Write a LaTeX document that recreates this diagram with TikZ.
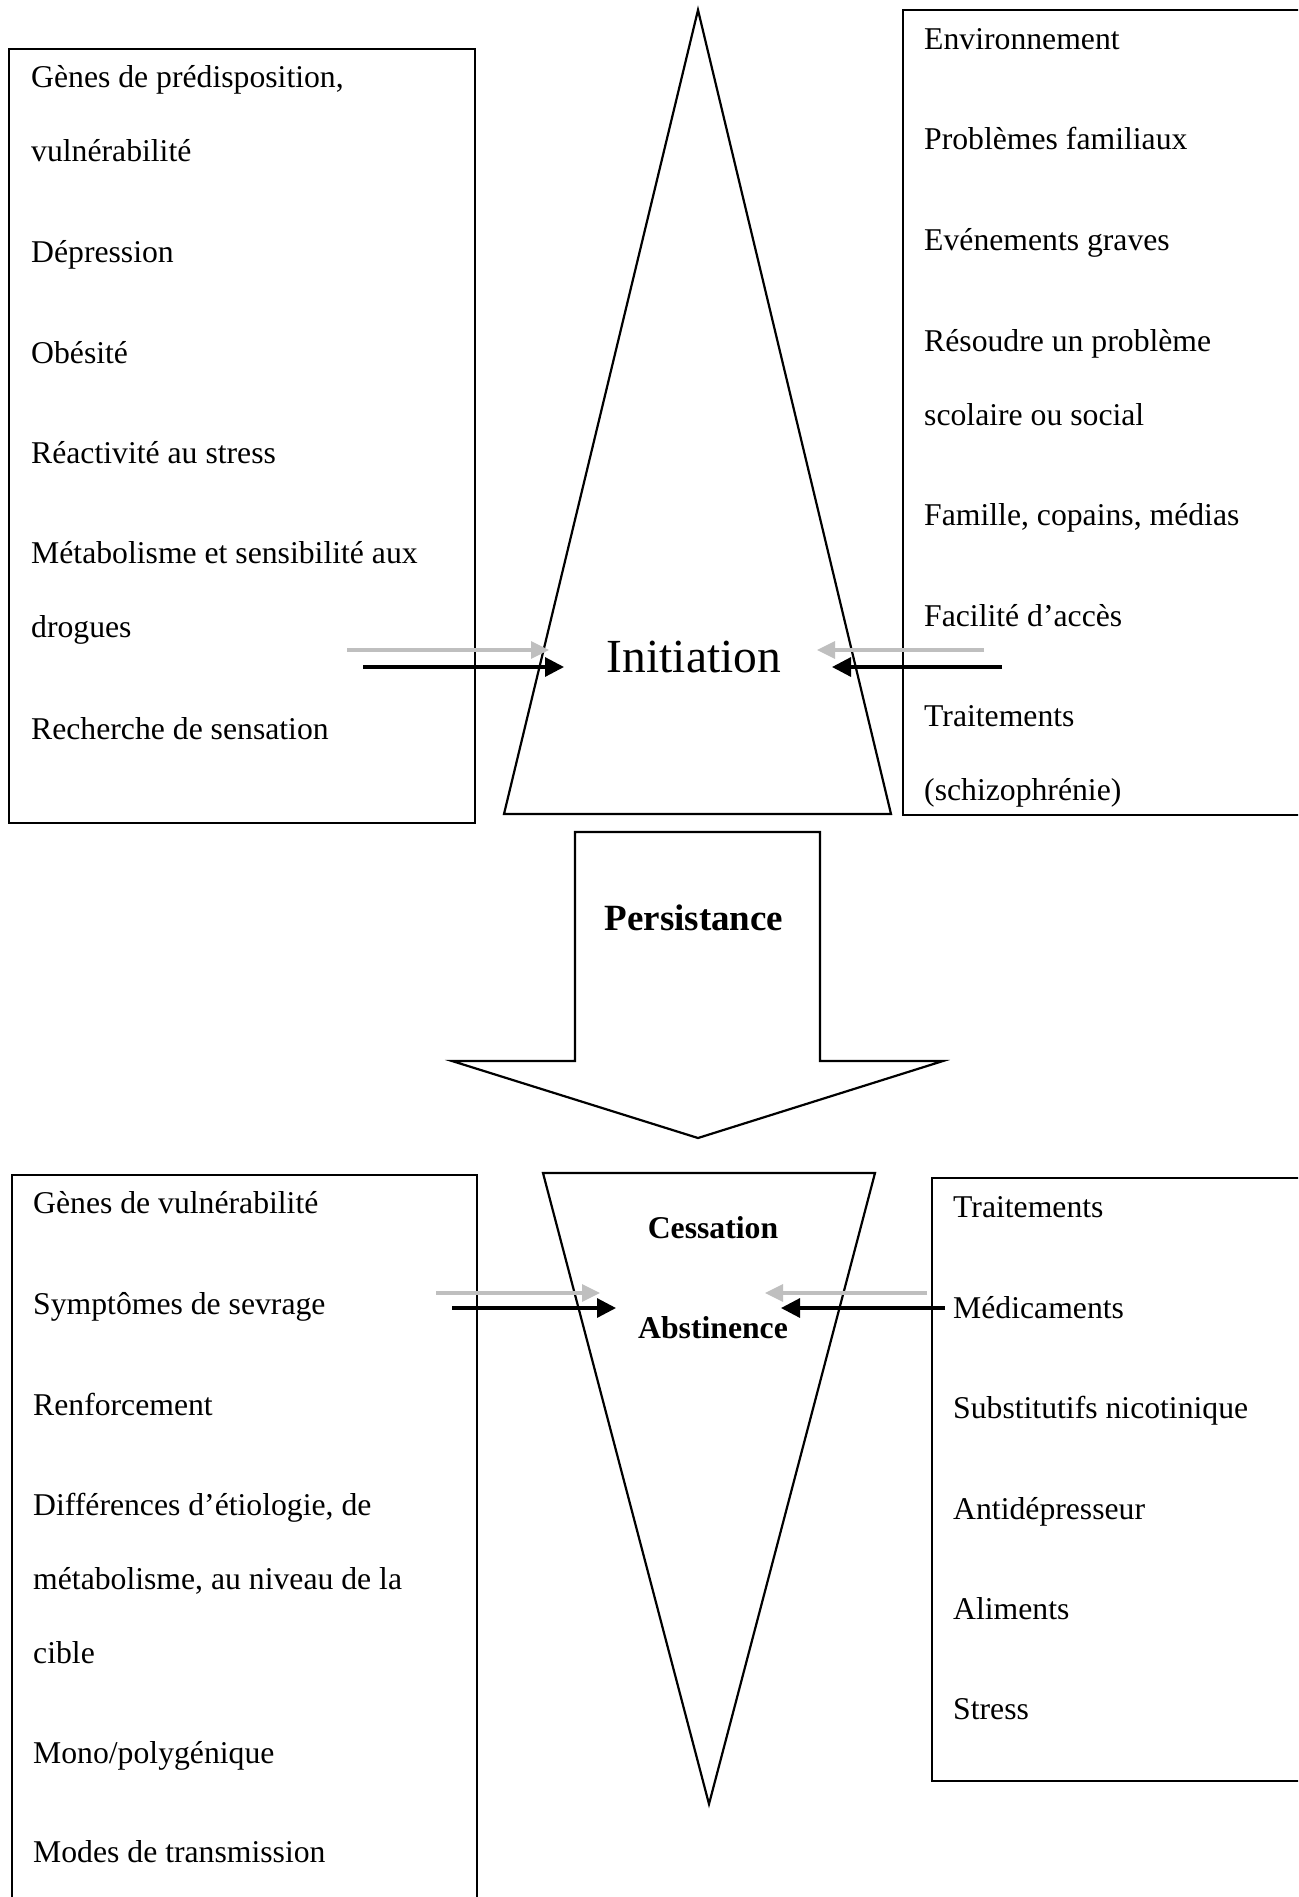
\documentclass[tikz,border=0pt]{standalone}
\usepackage{fontspec}
\setmainfont{Liberation Serif}
\usetikzlibrary{arrows.meta}
\begin{document}
\begin{tikzpicture}[x=1pt,y=-1pt,
  outline/.style={draw=black,line width=2.2pt,line join=miter},
  txt/.style={anchor=base west,inner sep=0pt,font=\fontsize{31.7}{38}\selectfont},
  midtxt/.style={anchor=base,inner sep=0pt},
  blackarr/.style={draw=black,line width=3.2pt,-{Triangle[length=19pt,width=19pt]}},
  grayarr/.style={draw=gray!50,line width=3.2pt,-{Triangle[length=18pt,width=17pt]}},
]
\useasboundingbox (0,0) rectangle (1298,1897);
\fill[white] (0,0) rectangle (1298,1897);
\clip (0,0) rectangle (1298,1897);

% ---- shapes ----
\draw[outline] (9,49) rectangle (475,823);
\draw[outline] (903,10) rectangle (1310,815);
\draw[outline] (698,10) -- (891,814) -- (504,814) -- cycle;
\draw[outline] (575,832) -- (820,832) -- (820,1061) -- (943,1061) -- (698,1138)
   -- (452,1061) -- (575,1061) -- cycle;
\draw[outline] (12,1175) rectangle (477,1910);
\draw[outline] (932,1178) rectangle (1310,1781);
\draw[outline] (543,1173) -- (875,1173) -- (709,1804) -- cycle;

% ---- top left texts ----
\node[txt] (tl1) at (31,88) {Gènes de prédisposition,};
\node[txt] (tl2) at (31,162) {vulnérabilité};
\node[txt] (tl3) at (31,262) {Dépression};
\node[txt] (tl4) at (31,363) {Obésité};
\node[txt] (tl5) at (31,463) {Réactivité au stress};
\node[txt] (tl6) at (31,563) {Métabolisme et sensibilité aux};
\node[txt] (tl7) at (31,637) {drogues};
\node[txt] (tl8) at (31,739) {Recherche de sensation};

% ---- top right texts ----
\node[txt] (tr1) at (924,50) {Environnement};
\node[txt] (tr2) at (924,150) {Problèmes familiaux};
\node[txt] (tr3) at (924,250) {Evénements graves};
\node[txt] (tr4) at (924,351) {Résoudre un problème};
\node[txt] (tr5) at (924,425) {scolaire ou social};
\node[txt] (tr6) at (924,525) {Famille, copains, médias};
\node[txt] (tr7) at (924,626) {Facilité d’accès};
\node[txt] (tr8) at (924,726) {Traitements};
\node[txt] (tr9) at (924,800) {(schizophrénie)};

% ---- bottom left texts ----
\node[txt] (bl1) at (33,1213) {Gènes de vulnérabilité};
\node[txt] (bl2) at (33,1314) {Symptômes de sevrage};
\node[txt] (bl3) at (33,1415) {Renforcement};
\node[txt] (bl4) at (33,1515) {Différences d’étiologie, de};
\node[txt] (bl5) at (33,1589) {métabolisme, au niveau de la};
\node[txt] (bl6) at (33,1663) {cible};
\node[txt] (bl7) at (33,1763) {Mono/polygénique};
\node[txt] (bl8) at (33,1862) {Modes de transmission};

% ---- bottom right texts ----
\node[txt] (br1) at (953,1217) {Traitements};
\node[txt] (br2) at (953,1318) {Médicaments};
\node[txt] (br3) at (953,1418) {Substitutifs nicotinique};
\node[txt] (br4) at (953,1519) {Antidépresseur};
\node[txt] (br5) at (953,1619) {Aliments};
\node[txt] (br6) at (953,1719) {Stress};

% ---- central labels ----
\node[midtxt,font=\fontsize{47.5}{57}\selectfont] (init) at (694,672) {Initiation};
\node[midtxt,font=\fontsize{37}{44}\selectfont\bfseries] (pers) at (694,930) {Persistance};
\node[midtxt,font=\fontsize{31.7}{38}\selectfont\bfseries] (cess) at (713,1238) {Cessation};
\node[midtxt,font=\fontsize{31.7}{38}\selectfont\bfseries] (abst) at (713,1338) {Abstinence};

% ---- arrow ends ----
\coordinate (igl0) at (347,650);  \coordinate (igl1) at (549,650);
\coordinate (ibl0) at (363,667);  \coordinate (ibl1) at (564,667);
\coordinate (igr0) at (984,650);  \coordinate (igr1) at (817,650);
\coordinate (ibr0) at (1002,667); \coordinate (ibr1) at (832,667);
\coordinate (agl0) at (436,1293); \coordinate (agl1) at (600,1293);
\coordinate (abl0) at (452,1308); \coordinate (abl1) at (616,1308);
\coordinate (agr0) at (927,1293); \coordinate (agr1) at (765,1293);
\coordinate (abr0) at (945,1308); \coordinate (abr1) at (781,1308);

\draw[grayarr] (igl0) -- (igl1);
\draw[blackarr] (ibl0) -- (ibl1);
\draw[grayarr] (igr0) -- (igr1);
\draw[blackarr] (ibr0) -- (ibr1);
\draw[grayarr] (agl0) -- (agl1);
\draw[blackarr] (abl0) -- (abl1);
\draw[grayarr] (agr0) -- (agr1);
\draw[blackarr] (abr0) -- (abr1);
\end{tikzpicture}
\end{document}
